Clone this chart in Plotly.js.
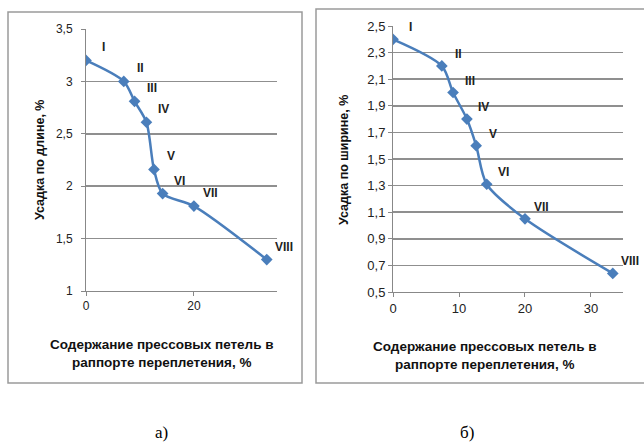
<!DOCTYPE html>
<html>
<head>
<meta charset="utf-8">
<script src="https://cdn.plot.ly/plotly-3.0.1.min.js"></script>
<style>html,body{margin:0;padding:0;background:#fff;}#chart{width:644px;height:448px;}</style>
</head>
<body>
<div id="chart"></div>
<script>
// Data
const pointLabels = ["I","II","III","IV","V","VI","VII","VIII"];
// a) shrinkage along length
const loopsA = [0, 7, 9, 11.2, 12.6, 14.2, 20, 33.5];
const shrinkLength = [3.2, 3.0, 2.81, 2.61, 2.16, 1.93, 1.81, 1.30];
// б) shrinkage along width
const loopsB = [0, 7.4, 9.1, 11.2, 12.6, 14.2, 20, 33.3];
const shrinkWidth = [2.4, 2.2, 2.0, 1.8, 1.6, 1.31, 1.05, 0.64];

const xTitle = "Содержание прессовых петель в<br>раппорте переплетения, %";
const yTitleA = "Усадка по длине, %";
const yTitleB = "Усадка по ширине, %";
const panelLabels = ["а)", "б)"];

const W = 644, H = 448;
const px = x => x / W;
const py = y => 1 - y / H;

const blue = "#4A7EBB";
const lineStyle = {color: blue, width: 2.5, shape: "spline", smoothing: 0.8};
const markerStyle = {symbol: "diamond", size: 9, color: blue};

const traces = [
  {x: loopsA, y: shrinkLength, xaxis: "x", yaxis: "y", mode: "lines+markers",
   line: lineStyle, marker: markerStyle, hoverinfo: "skip"},
  {x: loopsB, y: shrinkWidth, xaxis: "x2", yaxis: "y2", mode: "lines+markers",
   line: lineStyle, marker: markerStyle, hoverinfo: "skip"}
];

const tickFont = {family: "Liberation Sans, Arial, sans-serif", size: 12, color: "#222"};
const gridCol = "#8f8f8f";
const lblFont = {family: "Liberation Sans, Arial, sans-serif", size: 12, color: "#222"};

const annotations = [];
pointLabels.forEach((t, i) => {
  annotations.push({x: loopsA[i], y: shrinkLength[i], xref: "x", yref: "y", text: "<b>" + t + "</b>",
    showarrow: false, xshift: 17, yshift: 13, xanchor: "center", yanchor: "middle", font: lblFont});
  annotations.push({x: loopsB[i], y: shrinkWidth[i], xref: "x2", yref: "y2", text: "<b>" + t + "</b>",
    showarrow: false, xshift: 17, yshift: 12, xanchor: "center", yanchor: "middle", font: lblFont});
});
const titleFont = {family: "Liberation Sans, Arial, sans-serif", size: 13.5, color: "#111"};
const paperAnn = (x, y, text, font, extra) => Object.assign({xref: "paper", yref: "paper",
  x: px(x), y: py(y), text: text, showarrow: false, font: font,
  xanchor: "center", yanchor: "middle", align: "center"}, extra || {});
annotations.push(
  paperAnn(162, 353, "<b>" + xTitle + "</b>", titleFont),
  paperAnn(485, 355, "<b>" + xTitle + "</b>", titleFont),
  paperAnn(40, 160, "<b>" + yTitleA + "</b>", Object.assign({}, titleFont, {size: 12.5}), {textangle: -90}),
  paperAnn(344, 160, "<b>" + yTitleB + "</b>", Object.assign({}, titleFont, {size: 12.5}), {textangle: -90}),
  paperAnn(162, 432, panelLabels[0], {family: "Liberation Serif, Times New Roman, serif", size: 17, color: "#000"}),
  paperAnn(467, 432, panelLabels[1], {family: "Liberation Serif, Times New Roman, serif", size: 17, color: "#000"})
);

const axisCommon = {showline: true, linecolor: "#888", linewidth: 1, ticks: "outside",
  ticklen: 4, tickcolor: "#888", tickfont: tickFont, zeroline: false, fixedrange: true};

const layout = {
  width: W, height: H, margin: {l: 0, r: 0, t: 0, b: 0},
  paper_bgcolor: "#fff", plot_bgcolor: "#fff", showlegend: false,
  separators: ", ",
  xaxis: Object.assign({}, axisCommon, {domain: [px(86), px(277)], range: [0, 35.4],
    tickvals: [0, 20], showgrid: false, anchor: "y"}),
  yaxis: Object.assign({}, axisCommon, {domain: [py(291), py(29)], range: [1, 3.5],
    tick0: 1, dtick: 0.5, showgrid: true, gridcolor: gridCol, gridwidth: 1.5, anchor: "x",
    ticklabelstandoff: 6}),
  xaxis2: Object.assign({}, axisCommon, {domain: [px(393), px(623)], range: [0, 34.85],
    tick0: 0, dtick: 10, showgrid: false, anchor: "y2",
    tickfont: Object.assign({}, tickFont, {size: 13})}),
  yaxis2: Object.assign({}, axisCommon, {domain: [py(292), py(26)], range: [0.5, 2.5],
    tick0: 0.5, dtick: 0.2, showgrid: true, gridcolor: gridCol, gridwidth: 1.5, anchor: "x2",
    tickfont: Object.assign({}, tickFont, {size: 13})}),
  annotations: annotations,
  shapes: [
    {type: "rect", xref: "paper", yref: "paper", x0: px(8), x1: px(302), y0: py(383), y1: py(12),
     line: {color: "#9a9a9a", width: 1.5}},
    {type: "rect", xref: "paper", yref: "paper", x0: px(316), x1: px(660), y0: py(383), y1: py(9),
     line: {color: "#9a9a9a", width: 1.5}}
  ]
};

Plotly.newPlot("chart", traces, layout, {staticPlot: true, displayModeBar: false});
</script>
</body>
</html>
